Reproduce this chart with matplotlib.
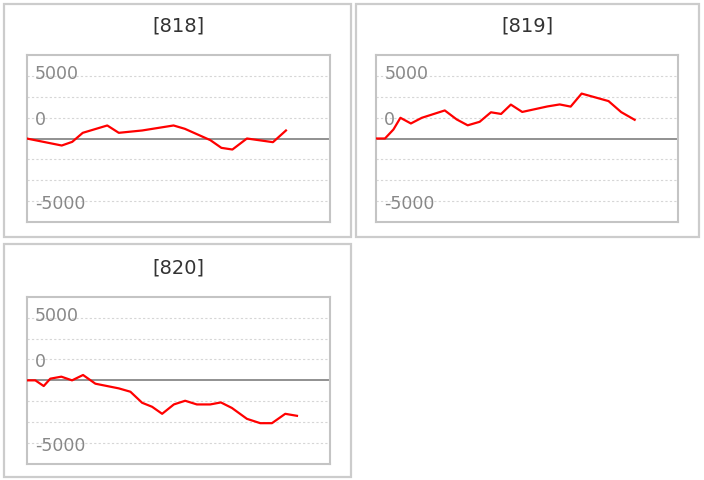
import matplotlib.pyplot as plt
from matplotlib.patches import Rectangle

plt.rcParams['font.family'] = ['DejaVu Sans']

W, H = 704, 480

titles = ["[818]", "[819]", "[820]"]

# x positions (shared time axis)
x_818 = [0, 35, 45.5, 56, 80.5, 92, 115.3, 146.7, 158, 183.5, 194.5, 205.5, 220, 246, 259]
y_818 = [0, -840, -400, 680, 1560, 680, 960, 1560, 1160, -200, -1120, -1320, 0, -440, 960]

x_819 = [0, 9, 17.5, 24.5, 35, 46, 69, 81, 92, 104, 115.3, 125.5, 135.3, 146.7, 172,
         184.3, 195.3, 206.3, 233.3, 246, 259.5]
y_819 = [0, 0, 1080, 2480, 1800, 2480, 3360, 2280, 1580, 2000, 3140, 2940, 4060, 3180, 3840,
         4080, 3820, 5380, 4480, 3160, 2240]

x_820 = [0, 8.6, 17, 23.6, 34.6, 45.3, 56.3, 68.6, 92, 103.6, 115.3, 125.3, 135.3, 147,
         158.3, 170, 183.3, 194, 205, 220, 233.3, 245, 258.3, 270]
y_820 = [0, 0, -680, 200, 440, 0, 640, -400, -960, -1360, -2680, -3160, -4000, -2880,
         -2440, -2880, -2880, -2640, -3300, -4600, -5120, -5120, -4000, -4240]

tick_labels = ["5000", "0", "-5000"]
tick_pos = [7740, 2160, -7800]

series = [(x_818, y_818), (x_819, y_819), (x_820, y_820)]

# panel boxes and plot areas in pixels: (left, top, right, bottom)
frames = [(3.5, 3.5, 350.5, 236.5), (355.5, 3.5, 698.5, 236.5), (3.5, 244, 350.5, 477)]
areas = [(26.7, 55, 330, 222), (376, 55, 678, 222), (26.7, 296.7, 330, 464)]

fig = plt.figure(figsize=(W / 100, H / 100), dpi=100)

for (l, t, r, b) in frames:
    fig.patches.append(Rectangle((l / W, 1 - b / H), (r - l) / W, (b - t) / H,
                                 transform=fig.transFigure, fill=False,
                                 edgecolor="#cccccc", linewidth=1.6))

for title, (xs, ys), (l, t, r, b) in zip(titles, series, areas):
    ax = fig.add_axes([l / W, 1 - b / H, (r - l) / W, (b - t) / H])
    ax.set_xlim(0, 303)
    ax.set_ylim(-10000, 10000)
    for g in [-7500, -5000, -2500, 2500, 5000, 7500]:
        ax.axhline(g, color="#d6d6d6", linewidth=0.8, linestyle=(0, (2, 2)), zorder=1)
    ax.axhline(0, color="#888888", linewidth=1.3, zorder=2)
    ax.plot(xs, ys, color="#ff0000", linewidth=1.6, zorder=3)
    ax.set_xticks([])
    ax.set_yticks([])
    for s in ax.spines.values():
        s.set_color("#c4c4c4")
        s.set_linewidth(1.5)
    for lab, p in zip(tick_labels, tick_pos):
        ax.text(8.3 / 303, (p + 10000) / 20000, lab, transform=ax.transAxes,
                ha="left", va="center", fontsize=12.5, color="#888888", zorder=4)
    ax.text(0.5, 1 + 29 / (b - t), title, transform=ax.transAxes,
            ha="center", va="center", fontsize=14, color="#333333")

fig.savefig("out.png", dpi=100)
